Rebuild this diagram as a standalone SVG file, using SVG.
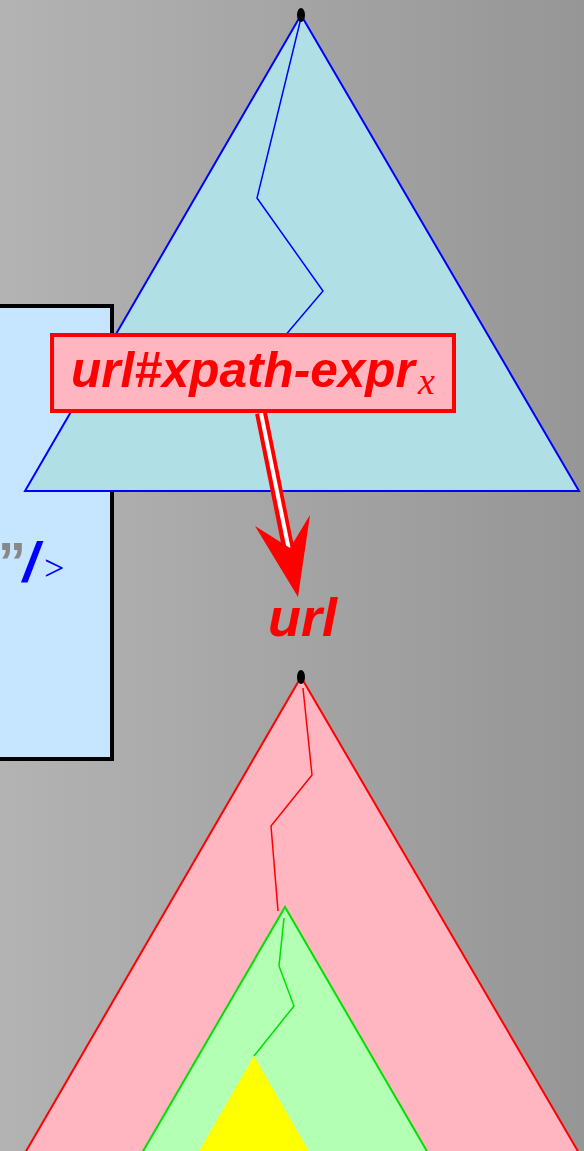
<svg xmlns="http://www.w3.org/2000/svg" width="584" height="1151" viewBox="0 0 584 1151">
<defs>
<linearGradient id="bg" x1="0" y1="0" x2="1" y2="0">
<stop offset="0" stop-color="#b3b3b3"/>
<stop offset="1" stop-color="#969696"/>
</linearGradient>
<style>
.tri{stroke-width:2;stroke-linejoin:miter}
.sans{font-family:"Liberation Sans",Arial,sans-serif;font-weight:bold;font-style:italic}
.serif{font-family:"Liberation Serif","Times New Roman",serif}
.dot{fill:#000}
</style>
</defs>
<rect width="584" height="1151" fill="url(#bg)"/>
<g id="element-box">
<rect x="-20" y="306" width="132" height="453" fill="#c6e6ff" stroke="#000" stroke-width="4"/>
<text y="581"><tspan x="-2" font-family="Liberation Sans, Arial, sans-serif" font-weight="bold" font-size="56" fill="#888">”</tspan><tspan class="sans" x="23" font-size="56" fill="#0000ff">/</tspan><tspan class="serif" x="44" y="580" font-size="36" fill="#0000ff">&gt;</tspan></text>
</g>
<g id="source-tree">
<polygon class="tri" points="301,15 25,491 579,491" fill="#b0e0e6" stroke="#0000ff"/>
<polyline points="301,18 257,198 323,291 256,370" fill="none" stroke="#0000ff" stroke-width="1.5"/>
<ellipse class="dot" cx="301" cy="15" rx="4" ry="7"/>
</g>
<g id="target-tree">
<polygon class="tri" points="301,677 25,1153 579,1153" fill="#ffb6c1" stroke="#ff0000"/>
<polyline points="303,688 312,775 271,826 278,911" fill="none" stroke="#ff0000" stroke-width="1.5"/>
<ellipse class="dot" cx="301" cy="677" rx="4" ry="7"/>
</g>
<g id="subtree">
<polygon class="tri" points="285,907 142,1153 428,1153" fill="#b3ffb3" stroke="#00e000"/>
<polyline points="284,918 279,966 294,1006 254,1056" fill="none" stroke="#00e000" stroke-width="1.5"/>
</g>
<g id="subsubtree">
<polygon points="254,1056 198,1153 310,1153" fill="#ffff00"/>
</g>
<g id="connectors">
<line x1="261" y1="413" x2="289" y2="552" stroke="#ff0000" stroke-width="12"/>
<line x1="261" y1="413" x2="289" y2="550" stroke="#ffffff" stroke-width="4"/>
<polygon points="298,597 255,526 290,548 310,515" fill="#ff0000"/>
</g>
<g id="label">
<rect x="52" y="335" width="402" height="76" fill="#ffb6c1" stroke="#ff0000" stroke-width="4"/>
<text class="sans" x="71" y="387" font-size="49.5" fill="#ff0000">url#xpath-expr<tspan class="serif" x="418" y="394" font-size="38" font-weight="normal">x</tspan></text>
</g>
<g id="url-label">
<text class="sans" x="268" y="636" font-size="54" fill="#ff0000">url</text>
</g>
</svg>
